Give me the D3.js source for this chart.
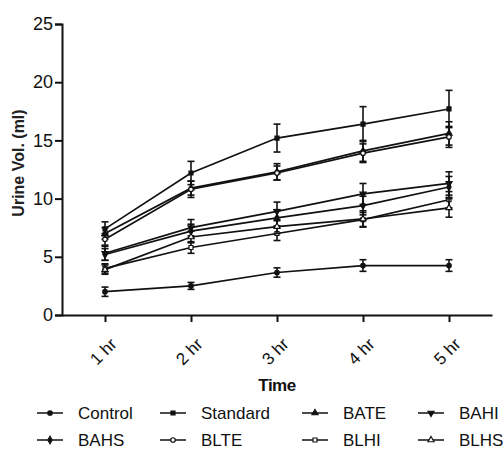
<!DOCTYPE html>
<html lang="en">
<head>
<meta charset="UTF-8">
<title>Urine volume over time</title>
<script src="https://d3js.org/d3.v7.min.js"></script>
<style>
  body { margin: 0; background: #fff; }
  svg { display: block; font-family: "Liberation Sans", Arial, sans-serif; }
</style>
</head>
<body>
<svg width="503" height="450"></svg>
<script>
// time points (hr) and their tick labels
const hours = [1, 2, 3, 4, 5];
const hourLabels = ["1 hr", "2 hr", "3 hr", "4 hr", "5 hr"];
const yTicks = [0, 5, 10, 15, 20, 25];

const seriesNames = ["Control", "Standard", "BATE", "BAHI", "BAHS", "BLTE", "BLHI", "BLHS"];

// mean urine volume (ml)
const control  = [2.0, 2.5, 3.65, 4.25, 4.25];
const standard = [7.4, 12.2, 15.2, 16.4, 17.7];
const bate     = [7.0, 10.9, 12.3, 14.1, 15.6];
const bahi     = [5.3, 7.5, 8.9, 10.4, 11.3];
const bahs     = [5.2, 7.2, 8.35, 9.4, 11.0];
const blte     = [6.5, 10.8, 12.2, 13.9, 15.3];
const blhi     = [4.0, 5.8, 7.0, 8.2, 9.9];
const blhs     = [3.9, 6.7, 7.6, 8.25, 9.2];

// SEM
const controlErr  = [0.4, 0.3, 0.4, 0.5, 0.5];
const standardErr = [0.6, 1.0, 1.2, 1.5, 1.6];
const bateErr     = [0.5, 0.6, 0.7, 0.9, 1.0];
const bahiErr     = [0.6, 0.7, 0.8, 0.9, 1.0];
const bahsErr     = [0.5, 0.6, 0.7, 0.8, 0.9];
const blteErr     = [0.5, 0.7, 0.6, 0.8, 0.9];
const blhiErr     = [0.4, 0.5, 0.6, 0.6, 0.7];
const blhsErr     = [0.4, 0.5, 0.6, 0.7, 0.8];

const allValues = [control, standard, bate, bahi, bahs, blte, blhi, blhs];
const allErrors = [controlErr, standardErr, bateErr, bahiErr, bahsErr, blteErr, blhiErr, blhsErr];

// marker shape per series
const markers = [
  {type: d3.symbolCircle, fill: true, rot: 0},
  {type: d3.symbolSquare, fill: true, rot: 0},
  {type: d3.symbolTriangle, fill: true, rot: 0},
  {type: d3.symbolTriangle, fill: true, rot: 180},
  {type: d3.symbolDiamond, fill: true, rot: 0},
  {type: d3.symbolCircle, fill: false, rot: 0},
  {type: d3.symbolSquare, fill: false, rot: 0},
  {type: d3.symbolTriangle, fill: false, rot: 0}
];

const series = seriesNames.map((name, i) => ({
  name: name,
  marker: markers[i],
  points: hours.map((h, j) => ({hour: h, value: allValues[i][j], err: allErrors[i][j]}))
}));

const ink = "#111";
const svg = d3.select("svg");

const x = d3.scaleLinear().domain([0.5, 5.5]).range([62, 492]);
const y = d3.scaleLinear().domain([0, 25]).range([315, 24]);

// y axis
const yAxis = svg.append("g")
  .attr("transform", "translate(62,0)")
  .call(d3.axisLeft(y).tickValues(yTicks).tickSize(7).tickPadding(2));
yAxis.select(".domain").attr("stroke", ink).attr("stroke-width", 2);
yAxis.selectAll(".tick line").attr("stroke", ink).attr("stroke-width", 2);
yAxis.selectAll(".tick text")
  .attr("fill", ink)
  .style("font-size", "18px");

// x axis
const xAxis = svg.append("g")
  .attr("transform", "translate(0,315)")
  .call(d3.axisBottom(x).tickValues(hours).tickFormat((d, i) => hourLabels[i]).tickSize(7).tickSizeOuter(0));
xAxis.select(".domain").attr("stroke", ink).attr("stroke-width", 2);
xAxis.selectAll(".tick line").attr("stroke", ink).attr("stroke-width", 2);
xAxis.selectAll(".tick text")
  .attr("fill", ink)
  .style("font-size", "17px")
  .attr("text-anchor", "end")
  .attr("dy", "0.35em")
  .attr("transform", "translate(8,26) rotate(-45)")
  .attr("y", 0).attr("x", 0);

// axis titles
svg.append("text")
  .attr("transform", "translate(24,163) rotate(-90)")
  .attr("text-anchor", "middle")
  .style("font-size", "16px")
  .style("font-weight", "bold")
  .attr("fill", "#222")
  .text("Urine Vol. (ml)");

svg.append("text")
  .attr("x", 277).attr("y", 391)
  .attr("text-anchor", "middle")
  .style("font-size", "17px")
  .style("font-weight", "bold")
  .style("letter-spacing", "-0.5px")
  .attr("fill", ink)
  .text("Time");

const line = d3.line().x(d => x(d.hour)).y(d => y(d.value));
const sym = d3.symbol().size(16);

function drawMarker(g, m) {
  g.append("path")
    .attr("d", sym.type(m.type)())
    .attr("transform", "rotate(" + m.rot + ")")
    .attr("fill", m.fill ? ink : "#fff")
    .attr("stroke", ink)
    .attr("stroke-width", 1.2);
}

const groups = svg.selectAll(".series")
  .data(series)
  .enter().append("g")
  .attr("class", "series");

groups.append("path")
  .attr("d", d => line(d.points))
  .attr("fill", "none")
  .attr("stroke", ink)
  .attr("stroke-width", 1.7);

groups.each(function(s) {
  const g = d3.select(this);
  const bars = g.selectAll(".err")
    .data(s.points)
    .enter().append("g")
    .attr("class", "err")
    .attr("stroke", ink)
    .attr("stroke-width", 1.6);
  bars.append("line")
    .attr("x1", d => x(d.hour)).attr("x2", d => x(d.hour))
    .attr("y1", d => y(d.value - d.err)).attr("y2", d => y(d.value + d.err));
  [-1, 1].forEach(sign => {
    bars.append("line")
      .attr("x1", d => x(d.hour) - 3.5).attr("x2", d => x(d.hour) + 3.5)
      .attr("y1", d => y(d.value + sign * d.err)).attr("y2", d => y(d.value + sign * d.err));
  });
  g.selectAll(".pt")
    .data(s.points)
    .enter().append("g")
    .attr("class", "pt")
    .attr("transform", d => "translate(" + x(d.hour) + "," + y(d.value) + ")")
    .each(function() { drawMarker(d3.select(this), s.marker); });
});

// legend, 4 columns x 2 rows
const legendCols = [37, 160, 302, 418];
const legendRows = [413, 440];
const legend = svg.selectAll(".legend")
  .data(series)
  .enter().append("g")
  .attr("class", "legend")
  .attr("transform", (d, i) => "translate(" + legendCols[i % 4] + "," + legendRows[Math.floor(i / 4)] + ")");

legend.append("line")
  .attr("x1", 0).attr("x2", 26)
  .attr("stroke", ink).attr("stroke-width", 1.5);
legend.each(function(d) {
  const m = d3.select(this).append("g").attr("transform", "translate(13,0)");
  drawMarker(m, d.marker);
});
legend.append("text")
  .attr("x", 41).attr("y", 6)
  .style("font-size", "17px")
  .attr("fill", ink)
  .text(d => d.name);
</script>
</body>
</html>
